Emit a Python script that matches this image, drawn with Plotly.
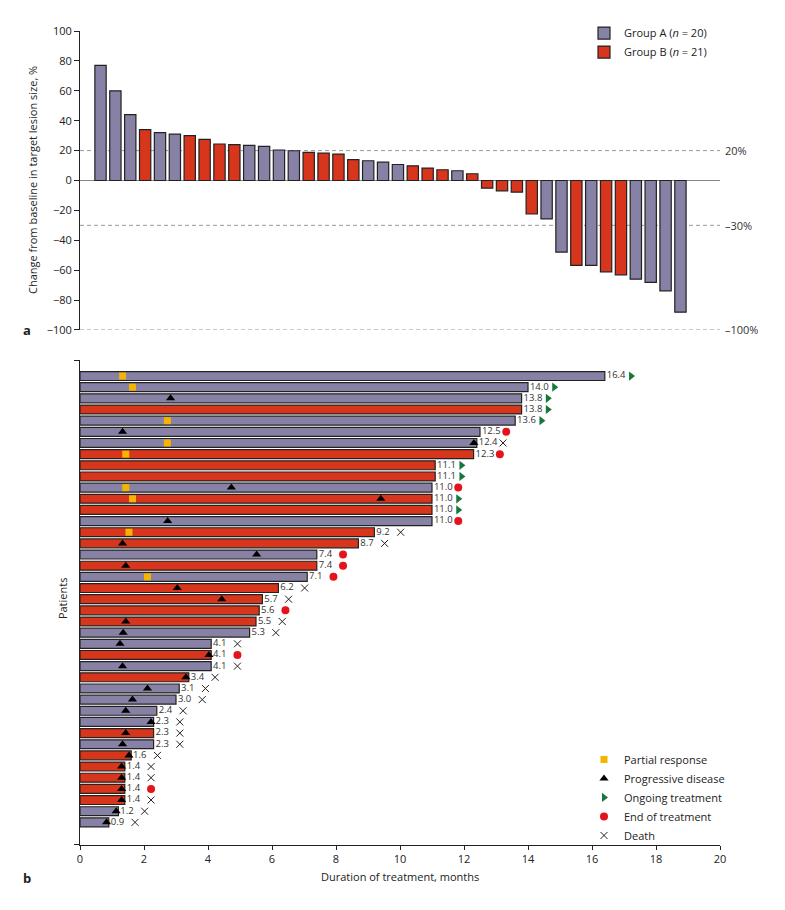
import plotly.graph_objects as go

# ---------------- Panel a: waterfall (best change from baseline, %) ----------------
resp_values = [77, 60, 44, 34, 32, 31, 30, 27.5, 24.4, 24, 23.5, 22.8, 20.4, 19.9,
               18.8, 18.3, 17.7, 13.9, 13.2, 12.3, 10.7, 9.8, 8.3, 7.2, 6.5, 4.5,
               -5.1, -6.9, -7.8, -22.4, -25.7, -47.9, -56.8, -56.8, -61.1, -63.1,
               -66, -68.2, -73.8, -88.1]
resp_groups = ["A", "A", "A", "B", "A", "A", "B", "B", "B", "B", "A", "A", "A", "A",
               "B", "B", "B", "B", "A", "A", "A", "B", "B", "B", "A", "B",
               "B", "B", "B", "B", "A", "A", "B", "A", "B", "B",
               "A", "A", "A", "A"]
ref_levels = [20, -30, -100]
ref_labels = ["20%", "–30%", "–100%"]

# ---------------- Panel b: swimmer plot (months) ----------------
durations = [16.4, 14.0, 13.8, 13.8, 13.6, 12.5, 12.4, 12.3, 11.1, 11.1, 11.0, 11.0,
             11.0, 11.0, 9.2, 8.7, 7.4, 7.4, 7.1, 6.2, 5.7, 5.6, 5.5, 5.3, 4.1, 4.1,
             4.1, 3.4, 3.1, 3.0, 2.4, 2.3, 2.3, 2.3, 1.6, 1.4, 1.4, 1.4, 1.4, 1.2, 0.9]
patient_groups = ["A", "A", "A", "B", "A", "A", "A", "B", "B", "B", "A", "B", "B", "A",
                  "B", "B", "A", "B", "A", "B", "B", "B", "B", "A", "A", "B", "A", "B",
                  "A", "A", "A", "A", "B", "A", "B", "B", "B", "B", "B", "A", "A"]
# O = ongoing treatment, E = end of treatment, D = death
end_status = ["O", "O", "O", "O", "O", "E", "D", "E", "O", "O", "E", "O", "O", "E",
              "D", "D", "E", "E", "E", "D", "D", "E", "D", "D", "D", "E", "D", "D",
              "D", "D", "D", "D", "D", "D", "D", "D", "D", "E", "D", "D", "D"]
pr_rows = [1, 2, 5, 7, 8, 11, 12, 15, 19]
pr_times = [1.33, 1.64, 2.73, 2.73, 1.43, 1.43, 1.64, 1.53, 2.11]
pd_rows = [3, 6, 7, 11, 12, 14, 16, 17, 18, 20, 21, 23, 24, 25, 26, 27, 28, 29, 30,
           31, 32, 33, 34, 35, 36, 37, 38, 39, 40, 41]
pd_times = [2.83, 1.33, 12.31, 4.73, 9.4, 2.74, 1.33, 5.52, 1.43, 3.04, 4.43, 1.43,
            1.35, 1.25, 4.03, 1.33, 3.31, 2.11, 1.64, 1.43, 2.22, 1.43, 1.33, 1.53,
            1.3, 1.3, 1.3, 1.3, 1.13, 0.83]

group_names = {"A": "Group A (<i>n</i> = 20)", "B": "Group B (<i>n</i> = 21)"}
colors = {"A": "#8781a6", "B": "#d8361c"}
FONT = "Open Sans"
DARK = "#222222"
status_offset = 0.82
label_pad = 0.06

fig = go.Figure()

# Panel a bars
for g in ["A", "B"]:
    idx = [i for i, gg in enumerate(resp_groups) if gg == g]
    fig.add_trace(go.Bar(
        x=idx, y=[resp_values[i] for i in idx], name=group_names[g],
        marker=dict(color=colors[g], line=dict(color=DARK, width=1.2)),
        width=0.76, xaxis="x", yaxis="y", legend="legend"))

# Panel b bars
rows = list(range(1, len(durations) + 1))
for g in ["A", "B"]:
    idx = [i for i, gg in enumerate(patient_groups) if gg == g]
    fig.add_trace(go.Bar(
        x=[durations[i] for i in idx], y=[rows[i] for i in idx], orientation="h",
        marker=dict(color=colors[g], line=dict(color=DARK, width=1.2)),
        width=0.8, xaxis="x2", yaxis="y2", showlegend=False, hoverinfo="x+y"))

# duration labels
fig.add_trace(go.Scatter(
    x=[d + label_pad for d in durations], y=rows, mode="text",
    text=[f"{d:.1f}" for d in durations],
    textposition="middle right", textfont=dict(size=9.5, color="#333", family=FONT),
    xaxis="x2", yaxis="y2", showlegend=False, cliponaxis=False))

# event markers
fig.add_trace(go.Scatter(
    x=pr_times, y=pr_rows, mode="markers", name="Partial response",
    marker=dict(symbol="square", size=7, color="#f5b400"),
    xaxis="x2", yaxis="y2", legend="legend2"))
fig.add_trace(go.Scatter(
    x=pd_times, y=pd_rows, mode="markers", name="Progressive disease",
    marker=dict(symbol="triangle-up", size=8, color="#000000"),
    xaxis="x2", yaxis="y2", legend="legend2"))

status_style = [
    ("O", "Ongoing treatment", dict(symbol="triangle-right", size=8, color="#17773a")),
    ("E", "End of treatment", dict(symbol="circle", size=8, color="#e3141b")),
    ("D", "Death", dict(symbol="x-thin-open", size=7, color=DARK,
                        line=dict(width=1, color=DARK))),
]
for code, name, mk in status_style:
    idx = [i for i, s in enumerate(end_status) if s == code]
    fig.add_trace(go.Scatter(
        x=[durations[i] + status_offset for i in idx], y=[rows[i] for i in idx],
        mode="markers", name=name, marker=mk, xaxis="x2", yaxis="y2",
        legend="legend2", cliponaxis=False))

# reference lines for panel a
shapes = []
annotations = []
for lv, lb in zip(ref_levels, ref_labels):
    shapes.append(dict(type="line", xref="paper", yref="y", x0=0, x1=1, y0=lv, y1=lv,
                       line=dict(color="#999999", width=1, dash="4px,3px"), layer="below"))
    annotations.append(dict(text=lb, xref="paper", yref="y", x=1.004, y=lv,
                            xanchor="left", yanchor="middle", showarrow=False,
                            font=dict(size=11, color="#333", family=FONT)))

annotations += [
    dict(text="<b>a</b>", xref="paper", yref="y", x=-0.083, y=-100,
         xanchor="center", yanchor="middle", showarrow=False, font=dict(size=13, color=DARK)),
    dict(text="<b>b</b>", xref="paper", yref="paper", x=-0.083, y=-0.0405,
         xanchor="center", yanchor="middle", showarrow=False, font=dict(size=13, color=DARK)),
    dict(text="Change from baseline in target lesion size, %", xref="paper", yref="paper",
         x=-0.0734, y=0.817, textangle=-90, xanchor="center", yanchor="middle",
         showarrow=False, font=dict(size=11, color=DARK)),
    dict(text="Patients", xref="paper", yref="paper", x=-0.028, y=0.3034, textangle=-90,
         xanchor="center", yanchor="middle", showarrow=False, font=dict(size=11, color=DARK)),
    dict(text="Duration of treatment, months", xref="paper", yref="paper", x=0.5,
         y=-0.0393, xanchor="center", yanchor="middle", showarrow=False,
         font=dict(size=11, color=DARK)),
]

fig.update_layout(
    width=785, height=910,
    margin=dict(l=80, r=65, t=31, b=65),
    paper_bgcolor="white", plot_bgcolor="white",
    font=dict(family=FONT, size=11, color=DARK),
    barmode="overlay",
    shapes=shapes, annotations=annotations,
    xaxis=dict(domain=[0, 1], anchor="y", range=[-1.38, 41.66], visible=False),
    yaxis=dict(domain=[0.6327, 1], anchor="x", range=[-100, 100], dtick=20,
               ticks="outside", ticklen=5, tickcolor=DARK, showline=True,
               linecolor=DARK, linewidth=1, showgrid=False, zeroline=True,
               zerolinecolor="#888888", zerolinewidth=1, tickfont=dict(size=11)),
    xaxis2=dict(domain=[0, 1], anchor="y2", range=[0, 20], dtick=2, ticks="outside",
                ticklen=4, tickcolor=DARK, showline=True, linecolor=DARK, linewidth=1,
                showgrid=False, zeroline=False, tickfont=dict(size=11)),
    yaxis2=dict(domain=[0, 0.5958], anchor="x2", range=[43.03, -0.434],
                tickvals=[-0.42, 43.0], ticktext=["", ""], ticks="outside", ticklen=5,
                tickcolor=DARK, showline=True, linecolor=DARK, linewidth=1,
                showgrid=False, zeroline=False),
    legend=dict(x=0.7875, y=1.0153, xanchor="left", yanchor="top",
                bgcolor="rgba(0,0,0,0)", font=dict(size=11), tracegroupgap=0,
                itemwidth=30),
    legend2=dict(x=0.7875, y=0.1229, xanchor="left", yanchor="top",
                 bgcolor="rgba(0,0,0,0)", font=dict(size=11),
                 tracegroupgap=0, itemwidth=30),
    showlegend=True,
)

fig.write_html("out.html")
